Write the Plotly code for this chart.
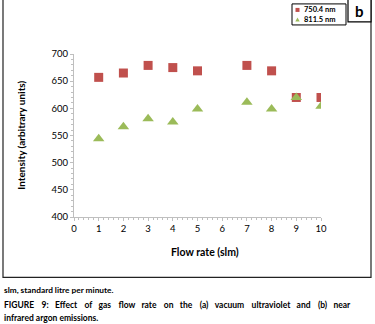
import plotly.graph_objects as go

flow_rate = [1, 2, 3, 4, 5, 7, 8, 9, 10]
i_750 = [657, 665, 679, 675, 669, 679, 669, 620, 620]
i_811 = [544, 566, 581, 575, 599, 611, 599, 620, 604]
series_names = ["750.4 nm", "811.5 nm"]
colors = ["#C0504D", "#9BBB59"]

FONT = "Lato, 'Open Sans', sans-serif"
W, H = 375, 324
L, R, T, B = 74, 321, 54, 216.7

def px2paper_x(px):
    return (px - L) / (R - L)

def px2paper_y(py):
    return (B - py) / (B - T)

fig = go.Figure()
fig.add_trace(go.Scatter(x=flow_rate, y=i_750, mode="markers", name=series_names[0],
                         marker=dict(symbol="square", size=9, color=colors[0])))
fig.add_trace(go.Scatter(x=flow_rate, y=i_811, mode="markers", name=series_names[1],
                         marker=dict(symbol="triangle-up", size=10, color=colors[1])))

axis_common = dict(showgrid=False, zeroline=False, showline=True, linecolor="#BFBFBF",
                   linewidth=1, ticks="outside", ticklen=3, tickcolor="#BFBFBF",
                   tickfont=dict(family=FONT, size=9.5, color="#000"))
fig.update_xaxes(range=[0, 10], tickvals=list(range(0, 11)),
                 minor=dict(ticks="outside", dtick=0.2, ticklen=2, tickcolor="#BFBFBF"),
                 **axis_common)
fig.update_yaxes(range=[400, 700], tickvals=list(range(400, 701, 50)),
                 minor=dict(ticks="outside", dtick=10, ticklen=2, tickcolor="#BFBFBF"),
                 **axis_common)

shapes = []
# outer frame
shapes.append(dict(type="rect", xref="paper", yref="paper",
                   x0=px2paper_x(3), x1=px2paper_x(371), y0=px2paper_y(277), y1=px2paper_y(-3),
                   line=dict(color="#222", width=1.2), fillcolor="rgba(0,0,0,0)", layer="above"))
# "b" box
shapes.append(dict(type="rect", xref="paper", yref="paper",
                   x0=px2paper_x(348), x1=px2paper_x(371), y0=px2paper_y(22), y1=px2paper_y(-3),
                   line=dict(color="#000", width=1.2), fillcolor="white"))
# legend box
shapes.append(dict(type="rect", xref="paper", yref="paper",
                   x0=px2paper_x(292), x1=px2paper_x(346), y0=px2paper_y(25), y1=px2paper_y(4),
                   line=dict(color="#000", width=1), fillcolor="white"))
# legend symbols
shapes.append(dict(type="rect", xref="paper", yref="paper",
                   x0=px2paper_x(295.5), x1=px2paper_x(299.5), y0=px2paper_y(12), y1=px2paper_y(8),
                   line=dict(width=0), fillcolor=colors[0]))
shapes.append(dict(type="path", xref="paper", yref="paper",
                   path="M {} {} L {} {} L {} {} Z".format(
                       px2paper_x(295.3), px2paper_y(21.5), px2paper_x(299.7), px2paper_y(21.5),
                       px2paper_x(297.5), px2paper_y(17.5)),
                   line=dict(width=0), fillcolor=colors[1]))

words = "FIGURE 9: Effect of gas flow rate on the (a) vacuum ultraviolet and (b) near".split(" ")
caption1 = words[0]
for i, w in enumerate(words[1:]):
    caption1 += " \u2002" + ("\u2009" if i % 2 == 0 else "") + w

annotations = [
    dict(text="<b>b</b>", xref="paper", yref="paper", x=px2paper_x(359.5), y=px2paper_y(11),
         showarrow=False, font=dict(family=FONT, size=15, color="#000"),
         xanchor="center", yanchor="middle"),
    dict(text="<b>" + series_names[0] + "</b>", xref="paper", yref="paper",
         x=px2paper_x(302), y=px2paper_y(10), showarrow=False,
         font=dict(family=FONT, size=7.5, color="#000"), xanchor="left", yanchor="middle"),
    dict(text="<b>" + series_names[1] + "</b>", xref="paper", yref="paper",
         x=px2paper_x(302), y=px2paper_y(19.5), showarrow=False,
         font=dict(family=FONT, size=7.5, color="#000"), xanchor="left", yanchor="middle"),
    dict(text="<b>Intensity (arbitrary units)</b>", xref="paper", yref="paper",
         x=px2paper_x(21), y=px2paper_y(135.5), textangle=-90, showarrow=False,
         font=dict(family=FONT, size=10, color="#000"), xanchor="center", yanchor="middle"),
    dict(text="<b>Flow rate (slm)</b>", xref="paper", yref="paper",
         x=px2paper_x(205), y=px2paper_y(252), showarrow=False,
         font=dict(family=FONT, size=10.5, color="#000"), xanchor="center", yanchor="middle"),
    dict(text="<b>slm, standard litre per minute.</b>", xref="paper", yref="paper",
         x=px2paper_x(2), y=px2paper_y(290), showarrow=False,
         font=dict(family=FONT, size=8.3, color="#000"), xanchor="left", yanchor="middle"),
    dict(text="<b>" + caption1 + "</b>",
         xref="paper", yref="paper",
         x=px2paper_x(2), y=px2paper_y(305), showarrow=False,
         font=dict(family=FONT, size=8.5, color="#000"), xanchor="left", yanchor="middle"),
    dict(text="<b>infrared argon emissions.</b>",
         xref="paper", yref="paper",
         x=px2paper_x(2), y=px2paper_y(317.5), showarrow=False,
         font=dict(family=FONT, size=8.5, color="#000"), xanchor="left", yanchor="middle"),
]

fig.update_layout(
    width=W, height=H,
    margin=dict(l=L, r=W - R, t=T, b=H - B, pad=0, autoexpand=False),
    plot_bgcolor="white", paper_bgcolor="white",
    shapes=shapes, annotations=annotations,
    showlegend=False,
)

fig.write_html("out.html", config={"displayModeBar": False},
               post_script="document.body.style.margin='0';document.body.style.overflow='hidden';")
